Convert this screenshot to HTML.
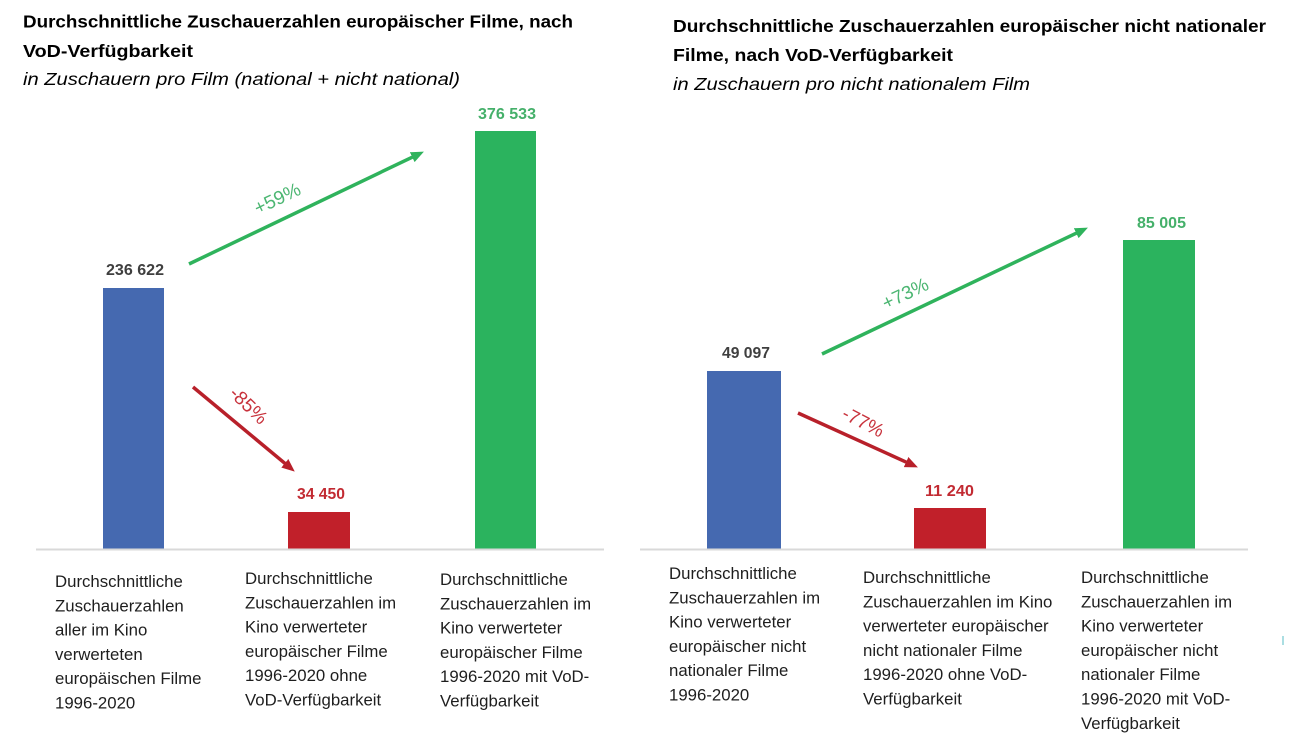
<!DOCTYPE html>
<html>
<head>
<meta charset="utf-8">
<style>
  html,body{margin:0;padding:0;background:#fff;}
  svg{display:block;}
  .t{font-family:"Liberation Sans",Arial,sans-serif;font-weight:bold;font-size:17.5px;fill:#000;}
  .s{font-family:"Liberation Sans",Arial,sans-serif;font-style:italic;font-size:17.5px;fill:#000;}
  .v{font-family:"Liberation Sans",Arial,sans-serif;font-weight:bold;font-size:15.5px;}
  .c{font-family:"Liberation Sans",Arial,sans-serif;font-size:16.8px;fill:#1e1e1e;}
  .p{font-family:"Liberation Sans",Arial,sans-serif;font-size:19px;}
</style>
</head>
<body>
<svg width="1290" height="741" viewBox="0 0 1290 741" xmlns="http://www.w3.org/2000/svg">
  <defs>
    <marker id="ag" markerUnits="userSpaceOnUse" markerWidth="13" markerHeight="11" refX="3" refY="5.5" orient="auto">
      <path d="M0,0 L13,5.5 L0,11 z" fill="#2fb35c"/>
    </marker>
    <marker id="ar" markerUnits="userSpaceOnUse" markerWidth="13" markerHeight="11" refX="3" refY="5.5" orient="auto">
      <path d="M0,0 L13,5.5 L0,11 z" fill="#b8202a"/>
    </marker>
  </defs>
  <rect width="1290" height="741" fill="#fff"/>

  <!-- LEFT CHART -->
  <text class="t" x="23" y="27.5" textLength="550" lengthAdjust="spacingAndGlyphs">Durchschnittliche Zuschauerzahlen europäischer Filme, nach</text>
  <text class="t" x="23" y="57" textLength="170" lengthAdjust="spacingAndGlyphs">VoD-Verfügbarkeit</text>
  <text class="s" x="23" y="85" textLength="437" lengthAdjust="spacingAndGlyphs">in Zuschauern pro Film (national + nicht national)</text>

  <rect x="103" y="288" width="61" height="261" fill="#4569b0"/>
  <rect x="288" y="512" width="62" height="37" fill="#c1202a"/>
  <rect x="475" y="131" width="61" height="418" fill="#2bb35e"/>
  <line x1="36" y1="549.5" x2="604" y2="549.5" stroke="#d9d9d9" stroke-width="2"/>

  <text class="v" x="135" y="275" text-anchor="middle" fill="#3f3f3f" textLength="58" lengthAdjust="spacingAndGlyphs">236 622</text>
  <text class="v" x="321" y="499" text-anchor="middle" fill="#c22a32" textLength="48" lengthAdjust="spacingAndGlyphs">34 450</text>
  <text class="v" x="507" y="119" text-anchor="middle" fill="#45b06a" textLength="58" lengthAdjust="spacingAndGlyphs">376 533</text>

  <line x1="189" y1="264" x2="414.9" y2="155.9" stroke="#2fb35c" stroke-width="3.5" marker-end="url(#ag)"/>
  <line x1="193" y1="387" x2="287.1" y2="465.2" stroke="#b8202a" stroke-width="3.5" marker-end="url(#ar)"/>

  <g transform="translate(277,198) rotate(-25.6)"><text class="p" x="0" y="7" text-anchor="middle" fill="#4cb672">+59%</text></g>
  <g transform="translate(249,405) rotate(44)"><text class="p" x="0" y="7" text-anchor="middle" fill="#c8323c">-85%</text></g>

  <g class="c">
    <text x="55" y="587">Durchschnittliche</text>
    <text x="55" y="611.3">Zuschauerzahlen</text>
    <text x="55" y="635.6">aller im Kino</text>
    <text x="55" y="659.9">verwerteten</text>
    <text x="55" y="684.2">europäischen Filme</text>
    <text x="55" y="708.5">1996-2020</text>

    <text x="245" y="584">Durchschnittliche</text>
    <text x="245" y="608.3">Zuschauerzahlen im</text>
    <text x="245" y="632.6">Kino verwerteter</text>
    <text x="245" y="656.9">europäischer Filme</text>
    <text x="245" y="681.2">1996-2020 ohne</text>
    <text x="245" y="705.5">VoD-Verfügbarkeit</text>

    <text x="440" y="585">Durchschnittliche</text>
    <text x="440" y="609.3">Zuschauerzahlen im</text>
    <text x="440" y="633.6">Kino verwerteter</text>
    <text x="440" y="657.9">europäischer Filme</text>
    <text x="440" y="682.2">1996-2020 mit VoD-</text>
    <text x="440" y="706.5">Verfügbarkeit</text>
  </g>

  <!-- RIGHT CHART -->
  <text class="t" x="673" y="32" textLength="593" lengthAdjust="spacingAndGlyphs">Durchschnittliche Zuschauerzahlen europäischer nicht nationaler</text>
  <text class="t" x="673" y="61" textLength="280" lengthAdjust="spacingAndGlyphs">Filme, nach VoD-Verfügbarkeit</text>
  <text class="s" x="673" y="90" textLength="357" lengthAdjust="spacingAndGlyphs">in Zuschauern pro nicht nationalem Film</text>

  <rect x="707" y="371" width="74" height="178" fill="#4569b0"/>
  <rect x="914" y="508" width="72" height="41" fill="#c1202a"/>
  <rect x="1123" y="240" width="72" height="309" fill="#2bb35e"/>
  <line x1="640" y1="549.5" x2="1248" y2="549.5" stroke="#d9d9d9" stroke-width="2"/>

  <text class="v" x="746" y="358" text-anchor="middle" fill="#3f3f3f" textLength="48" lengthAdjust="spacingAndGlyphs">49 097</text>
  <text class="v" x="949.5" y="496" text-anchor="middle" fill="#c22a32" textLength="49" lengthAdjust="spacingAndGlyphs">11 240</text>
  <text class="v" x="1161.5" y="228" text-anchor="middle" fill="#45b06a" textLength="49" lengthAdjust="spacingAndGlyphs">85 005</text>

  <line x1="822" y1="354" x2="1078.9" y2="231.9" stroke="#2fb35c" stroke-width="3.5" marker-end="url(#ag)"/>
  <line x1="798" y1="413" x2="908.8" y2="463.3" stroke="#b8202a" stroke-width="3.5" marker-end="url(#ar)"/>

  <g transform="translate(905,293) rotate(-25.4)"><text class="p" x="0" y="7" text-anchor="middle" fill="#4cb672">+73%</text></g>
  <g transform="translate(863.5,421.5) rotate(27)"><text class="p" x="0" y="7" text-anchor="middle" fill="#c8323c">-77%</text></g>

  <g class="c">
    <text x="669" y="579">Durchschnittliche</text>
    <text x="669" y="603.3">Zuschauerzahlen im</text>
    <text x="669" y="627.6">Kino verwerteter</text>
    <text x="669" y="651.9">europäischer nicht</text>
    <text x="669" y="676.2">nationaler Filme</text>
    <text x="669" y="700.5">1996-2020</text>

    <text x="863" y="583">Durchschnittliche</text>
    <text x="863" y="607.3">Zuschauerzahlen im Kino</text>
    <text x="863" y="631.6">verwerteter europäischer</text>
    <text x="863" y="655.9">nicht nationaler Filme</text>
    <text x="863" y="680.2">1996-2020 ohne VoD-</text>
    <text x="863" y="704.5">Verfügbarkeit</text>

    <text x="1081" y="583">Durchschnittliche</text>
    <text x="1081" y="607.3">Zuschauerzahlen im</text>
    <text x="1081" y="631.6">Kino verwerteter</text>
    <text x="1081" y="655.9">europäischer nicht</text>
    <text x="1081" y="680.2">nationaler Filme</text>
    <text x="1081" y="704.5">1996-2020 mit VoD-</text>
    <text x="1081" y="728.8">Verfügbarkeit</text>
  </g>

  <line x1="1283" y1="636" x2="1283" y2="645" stroke="#8fd3d8" stroke-width="1.5"/>
</svg>
</body>
</html>
